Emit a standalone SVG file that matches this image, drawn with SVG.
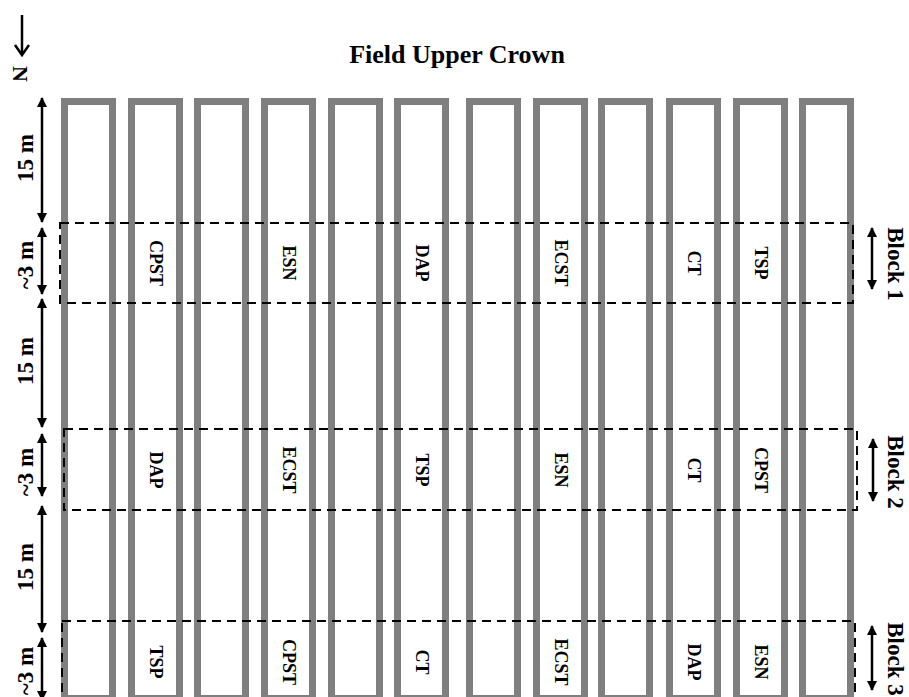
<svg xmlns="http://www.w3.org/2000/svg" width="909" height="697" viewBox="0 0 909 697">
<style>
.col{fill:none;stroke:#7f7f7f;stroke-width:7}
.blk{fill:none;stroke:#000;stroke-width:2;stroke-dasharray:9 6}
.dim{stroke:#000;stroke-width:2.5;fill:none;marker-start:url(#ah);marker-end:url(#ah)}
.t{font-family:"Liberation Serif","Times New Roman",serif;font-weight:bold;fill:#000}
.trt{font-size:18px}
.dl{font-size:23px}
</style>
<defs>
<marker id="ah" viewBox="0 0 10 10" refX="9" refY="5" markerWidth="4" markerHeight="4" orient="auto-start-reverse" markerUnits="strokeWidth">
<path d="M0,0 L10,5 L0,10 z" fill="#000"/>
</marker>
</defs>
<rect width="909" height="697" fill="#fff"/>
<text class="t" x="457" y="63" font-size="26" text-anchor="middle">Field Upper Crown</text>
<g id="north">
<line x1="22" y1="15" x2="22" y2="54" stroke="#000" stroke-width="2.5"/>
<polyline points="15,45 22,55 29,45" fill="none" stroke="#000" stroke-width="2.5"/>
<text class="t" transform="translate(13,74) rotate(90)" font-size="22" text-anchor="middle">N</text>
</g>
<g id="plots">
<rect class="col" x="64.5" y="101.5" width="48" height="597"/>
<rect class="col" x="131.5" y="101.5" width="48" height="597"/>
<rect class="col" x="197.5" y="101.5" width="48" height="597"/>
<rect class="col" x="264.5" y="101.5" width="48" height="597"/>
<rect class="col" x="331.5" y="101.5" width="48" height="597"/>
<rect class="col" x="397.5" y="101.5" width="48" height="597"/>
<rect class="col" x="469.5" y="101.5" width="48" height="597"/>
<rect class="col" x="536.5" y="101.5" width="48" height="597"/>
<rect class="col" x="601.5" y="101.5" width="48" height="597"/>
<rect class="col" x="669.5" y="101.5" width="48" height="597"/>
<rect class="col" x="736.5" y="101.5" width="48" height="597"/>
<rect class="col" x="802.5" y="101.5" width="48" height="597"/>
</g>
<g id="block1">
<rect class="blk" x="60" y="223" width="793" height="80"/>
<g class="t trt" text-anchor="middle" dominant-baseline="central">
<text transform="translate(155.5,263) rotate(90)">CPST</text>
<text transform="translate(288.5,263) rotate(90)">ESN</text>
<text transform="translate(421.5,263) rotate(90)">DAP</text>
<text transform="translate(560.5,263) rotate(90)">ECST</text>
<text transform="translate(693.5,263) rotate(90)">CT</text>
<text transform="translate(760.5,263) rotate(90)">TSP</text>
</g>
<text class="t dl" transform="translate(888,264) rotate(90)" text-anchor="middle">Block 1</text>
</g>
<g id="block2">
<rect class="blk" x="64" y="429" width="793" height="81"/>
<g class="t trt" text-anchor="middle" dominant-baseline="central">
<text transform="translate(155.5,470) rotate(90)">DAP</text>
<text transform="translate(288.5,470) rotate(90)">ECST</text>
<text transform="translate(421.5,470) rotate(90)">TSP</text>
<text transform="translate(560.5,470) rotate(90)">ESN</text>
<text transform="translate(693.5,470) rotate(90)">CT</text>
<text transform="translate(760.5,470) rotate(90)">CPST</text>
</g>
<text class="t dl" transform="translate(888,472) rotate(90)" text-anchor="middle">Block 2</text>
</g>
<g id="block3">
<rect class="blk" x="62" y="621" width="793" height="90"/>
<g class="t trt" text-anchor="middle" dominant-baseline="central">
<text transform="translate(155.5,662) rotate(90)">TSP</text>
<text transform="translate(288.5,662) rotate(90)">CPST</text>
<text transform="translate(421.5,662) rotate(90)">CT</text>
<text transform="translate(560.5,662) rotate(90)">ECST</text>
<text transform="translate(693.5,662) rotate(90)">DAP</text>
<text transform="translate(760.5,662) rotate(90)">ESN</text>
</g>
<text class="t dl" transform="translate(888,659) rotate(90)" text-anchor="middle">Block 3</text>
</g>
<g id="dimensions">
<line class="dim" x1="42" y1="98" x2="42" y2="222"/>
<line class="dim" x1="42" y1="228" x2="42" y2="294"/>
<line class="dim" x1="42" y1="299" x2="42" y2="427"/>
<line class="dim" x1="42" y1="434" x2="42" y2="496"/>
<line class="dim" x1="42" y1="506" x2="42" y2="632"/>
<line class="dim" x1="42" y1="638" x2="42" y2="700"/>
<line class="dim" x1="872" y1="228" x2="872" y2="289"/>
<line class="dim" x1="873" y1="439" x2="873" y2="501"/>
<line class="dim" x1="872" y1="626" x2="872" y2="690"/>
<g class="t dl" text-anchor="middle">
<text transform="translate(33,158) rotate(-90)">15 m</text>
<text transform="translate(33,265) rotate(-90)">~3 m</text>
<text transform="translate(33,361) rotate(-90)">15 m</text>
<text transform="translate(33,472) rotate(-90)">~3 m</text>
<text transform="translate(33,567) rotate(-90)">15 m</text>
<text transform="translate(33,671) rotate(-90)">~3 m</text>
</g>
</g>
</svg>
